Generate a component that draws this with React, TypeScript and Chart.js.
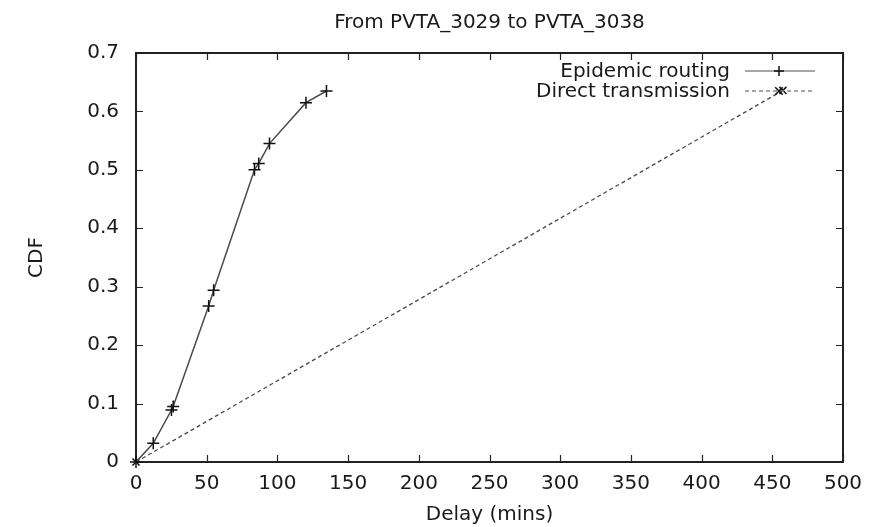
import React, { useEffect, useRef } from "react";
import { Chart, registerables } from "chart.js";

Chart.register(...registerables);

const TITLE = "From PVTA_3029 to PVTA_3038";
const X_TITLE = "Delay (mins)";
const Y_TITLE = "CDF";
const seriesNames = ["Epidemic routing", "Direct transmission"];

const epidemicDelay = [0, 12.2, 25.1, 26.3, 51.4, 54.9, 83.8, 86.8, 94.4, 120.2, 134.7];
const epidemicCdf = [0, 0.032, 0.089, 0.095, 0.267, 0.294, 0.5, 0.511, 0.545, 0.615, 0.635];

const directDelay = [0, 457.5];
const directCdf = [0, 0.636];

const xTicks = [0, 50, 100, 150, 200, 250, 300, 350, 400, 450, 500];
const yTicks = [0, 0.1, 0.2, 0.3, 0.4, 0.5, 0.6, 0.7];

const FONT_FAMILY = '"DejaVu Sans", "Liberation Sans", Arial, sans-serif';
const FONT_SIZE = 20;
const TEXT_COLOR = "#1a1a1a";
const LINE_COLOR = "#4a4a4a";

const framePlugin = {
  id: "gnuplotFrame",
  beforeDatasetsDraw(chart: any) {
    const { ctx, chartArea: a, scales } = chart;
    ctx.save();
    ctx.strokeStyle = "#222";
    ctx.lineWidth = 1.2;
    ctx.beginPath();
    for (const v of xTicks) {
      const px = Math.round(scales.x.getPixelForValue(v)) + 0.5;
      ctx.moveTo(px, a.bottom);
      ctx.lineTo(px, a.bottom - 7);
      ctx.moveTo(px, a.top);
      ctx.lineTo(px, a.top + 7);
    }
    for (const v of yTicks) {
      const py = Math.round(scales.y.getPixelForValue(v)) + 0.5;
      ctx.moveTo(a.left, py);
      ctx.lineTo(a.left + 7, py);
      ctx.moveTo(a.right, py);
      ctx.lineTo(a.right - 7, py);
    }
    ctx.stroke();
    ctx.lineWidth = 2;
    ctx.strokeRect(a.left, a.top, a.right - a.left, a.bottom - a.top);
    ctx.restore();
  },
  afterDraw(chart: any) {
    const { ctx, chartArea: a } = chart;
    ctx.save();
    ctx.fillStyle = TEXT_COLOR;
    ctx.font = `${FONT_SIZE}px ${FONT_FAMILY}`;
    // title
    ctx.textAlign = "center";
    ctx.textBaseline = "alphabetic";
    ctx.fillText(TITLE, (a.left + a.right) / 2, 28);
    // x title
    ctx.fillText(X_TITLE, (a.left + a.right) / 2, 520);
    // y title
    ctx.save();
    ctx.translate(42, (a.top + a.bottom) / 2);
    ctx.rotate(-Math.PI / 2);
    ctx.textBaseline = "alphabetic";
    ctx.fillText(Y_TITLE, 0, 0);
    ctx.restore();

    // legend
    const rows = [
      { y: 71, dash: [] as number[], style: "cross" },
      { y: 91, dash: [4, 3], style: "crossRot" },
    ];
    ctx.textAlign = "right";
    ctx.textBaseline = "middle";
    rows.forEach((r, i) => {
      ctx.fillStyle = TEXT_COLOR;
      ctx.fillText(seriesNames[i], 730, r.y + 1);
      ctx.strokeStyle = "#8a8a8a";
      ctx.lineWidth = 1.5;
      ctx.setLineDash(r.dash);
      ctx.beginPath();
      ctx.moveTo(745, r.y);
      ctx.lineTo(815, r.y);
      ctx.stroke();
      ctx.setLineDash([]);
      ctx.strokeStyle = "#111";
      ctx.lineWidth = 1.5;
      ctx.beginPath();
      const cx = 779;
      const s = 5;
      if (r.style === "cross") {
        ctx.moveTo(cx - s, r.y);
        ctx.lineTo(cx + s, r.y);
        ctx.moveTo(cx, r.y - s);
        ctx.lineTo(cx, r.y + s);
      } else {
        const d = s * 0.75;
        ctx.moveTo(cx - d, r.y - d);
        ctx.lineTo(cx + d, r.y + d);
        ctx.moveTo(cx - d, r.y + d);
        ctx.lineTo(cx + d, r.y - d);
      }
      ctx.stroke();
    });
    ctx.restore();
  },
};

export default function App() {
  const ref = useRef<HTMLCanvasElement | null>(null);

  useEffect(() => {
    if (!ref.current) return;
    const chart = new Chart(ref.current, {
      type: "line",
      data: {
        datasets: [
          {
            label: seriesNames[0],
            data: epidemicDelay.map((x, i) => ({ x, y: epidemicCdf[i] })),
            borderColor: LINE_COLOR,
            borderWidth: 1.5,
            pointStyle: "cross",
            pointRadius: 6,
            pointBorderColor: "#111",
            pointBorderWidth: 1.5,
            pointBackgroundColor: "#111",
            fill: false,
            tension: 0,
            clip: false as any,
          },
          {
            label: seriesNames[1],
            data: directDelay.map((x, i) => ({ x, y: directCdf[i] })),
            borderColor: LINE_COLOR,
            borderWidth: 1.3,
            borderDash: [4, 3],
            pointStyle: "crossRot",
            pointRadius: 5,
            pointBorderColor: "#111",
            pointBorderWidth: 1.5,
            fill: false,
            tension: 0,
            clip: false as any,
          },
        ],
      },
      options: {
        animation: false,
        responsive: true,
        maintainAspectRatio: false,
        layout: { padding: { top: 53, right: 36, left: 0, bottom: 0 } },
        plugins: {
          legend: { display: false },
          title: { display: false },
          tooltip: { enabled: false },
        },
        scales: {
          x: {
            type: "linear",
            min: 0,
            max: 500,
            grid: { display: false, drawTicks: false },
            border: { display: false },
            afterBuildTicks: (s: any) => {
              s.ticks = xTicks.map((v) => ({ value: v }));
            },
            afterFit: (s: any) => {
              s.height = 65;
            },
            ticks: {
              padding: 10,
              maxRotation: 0,
              autoSkip: false,
              color: TEXT_COLOR,
              font: { family: FONT_FAMILY, size: FONT_SIZE },
              callback: (v: any) => String(v),
            },
          },
          y: {
            type: "linear",
            min: 0,
            max: 0.7,
            grid: { display: false, drawTicks: false },
            border: { display: false },
            afterBuildTicks: (s: any) => {
              s.ticks = yTicks.map((v) => ({ value: v }));
            },
            afterFit: (s: any) => {
              s.width = 136;
            },
            ticks: {
              padding: 17,
              autoSkip: false,
              color: TEXT_COLOR,
              font: { family: FONT_FAMILY, size: FONT_SIZE },
              callback: (v: any) => String(Number(Number(v).toFixed(1))),
            },
          },
        },
      },
      plugins: [framePlugin],
    });
    return () => chart.destroy();
  }, []);

  return (
    <div
      style={{
        position: "fixed",
        left: 0,
        top: 0,
        width: 879,
        height: 527,
        background: "#fff",
      }}
    >
      <canvas ref={ref} />
    </div>
  );
}
